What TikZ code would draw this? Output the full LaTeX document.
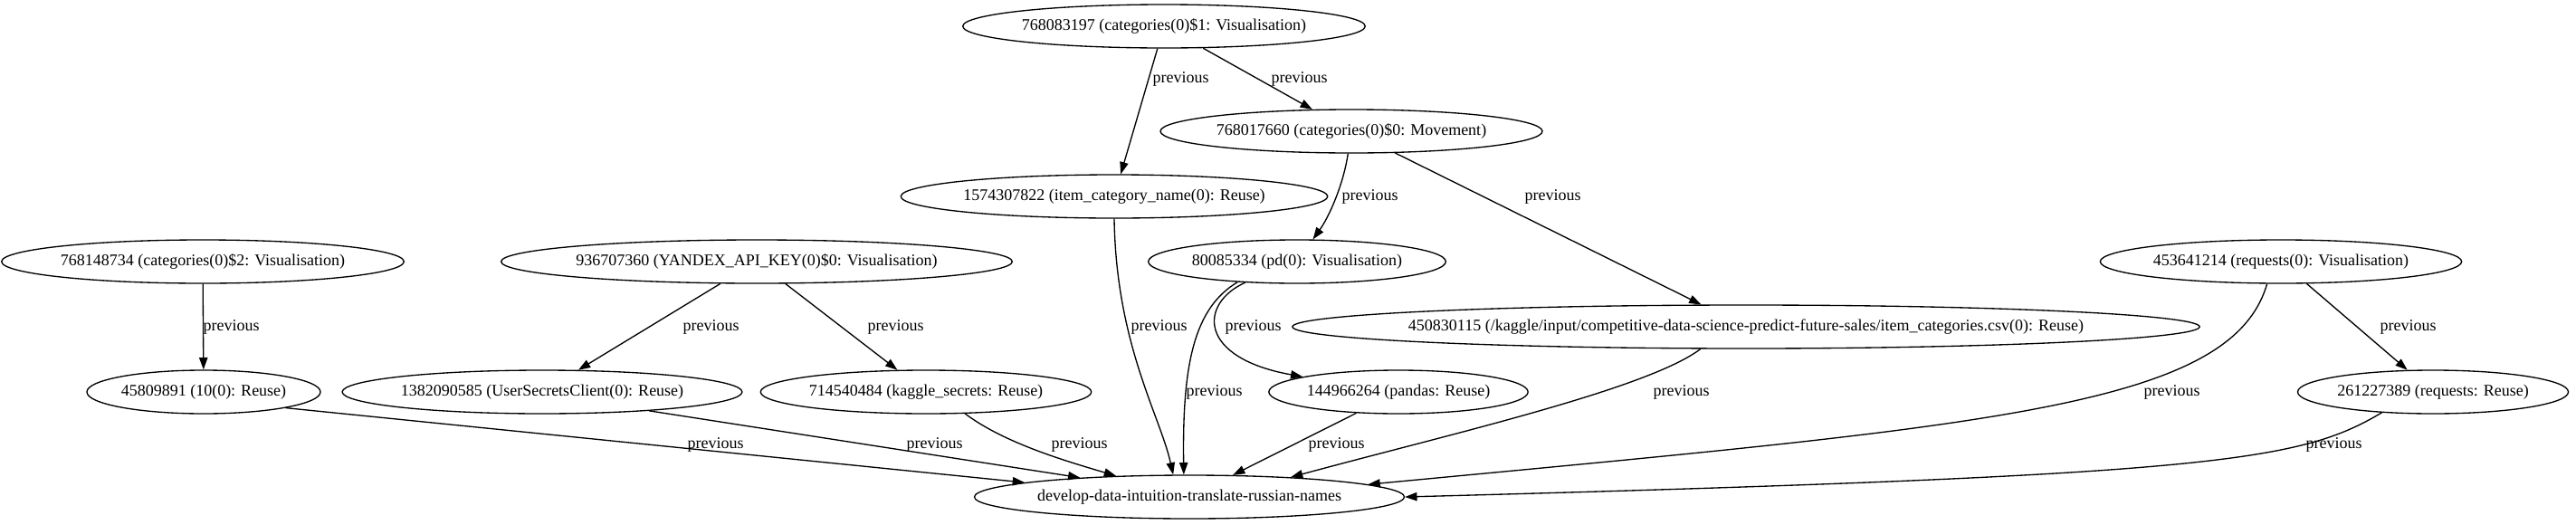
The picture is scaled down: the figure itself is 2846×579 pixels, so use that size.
\documentclass[tikz,border=0pt]{standalone}
\usepackage{fontspec}
\setmainfont{Liberation Serif}
\usetikzlibrary{shapes.geometric,arrows.meta}

\begin{document}
\begin{tikzpicture}[x=0.75pt,y=-0.75pt,
    state/.style={draw,ellipse,line width=1pt,inner xsep=0pt,minimum height=36pt,
      font=\fontsize{13.5}{16}\selectfont},
    prev/.style={line width=1pt,-{Triangle[length=10pt,width=7pt]}},
    lbl/.style={anchor=west,inner sep=0pt,font=\fontsize{13.5}{16}\selectfont}]
    \useasboundingbox (0,0) rectangle (2846,579);
    % Define nodes
    \node[state] (cat1) at (1286,29) {768083197 (categories(0)\$1: Visualisation)};
    \node[state] (cat0) at (1493,145) {768017660 (categories(0)\$0: Movement)};
    \node[state] (itemcat) at (1231,217) {1574307822 (item\_category\_name(0): Reuse)};
    \node[state] (cat2) at (224,289) {768148734 (categories(0)\$2: Visualisation)};
    \node[state] (yandex) at (836,289) {936707360 (YANDEX\_API\_KEY(0)\$0: Visualisation)};
    \node[state] (pd) at (1433,289) {80085334 (pd(0): Visualisation)};
    \node[state] (req) at (2520,289) {453641214 (requests(0): Visualisation)};
    \node[state,inner xsep=-14pt] (csv) at (1929,361) {450830115 (/kaggle/input/competitive-data-science-predict-future-sales/item\_categories.csv(0): Reuse)};
    \node[state] (ten) at (225,433) {45809891 (10(0): Reuse)};
    \node[state] (usc) at (599,433) {1382090585 (UserSecretsClient(0): Reuse)};
    \node[state] (ksec) at (1023,433) {714540484 (kaggle\_secrets: Reuse)};
    \node[state] (pandas) at (1545,433) {144966264 (pandas: Reuse)};
    \node[state] (reqreuse) at (2688,433) {261227389 (requests: Reuse)};
    \node[state] (nb) at (1314,549) {develop-data-intuition-translate-russian-names};
    % Upper edges
    \draw[prev] (cat1) -- (itemcat) node[lbl] at (1273,87) {previous};
    \draw[prev] (cat1) -- (cat0) node[lbl] at (1404,87) {previous};
    \draw[prev] (cat0) .. controls (1484,205) and (1468,240) .. (pd) node[lbl] at (1482,217) {previous};
    \draw[prev] (cat0) -- (csv) node[lbl] at (1684,217) {previous};
    \draw[prev] (cat2) -- (ten) node[lbl] at (224,361) {previous};
    \draw[prev] (yandex) -- (usc) node[lbl] at (754,361) {previous};
    \draw[prev] (yandex) -- (ksec) node[lbl] at (958,361) {previous};
    \draw[prev] (pd.202) .. controls (1325,335) and (1322,395) .. (pandas.171.8) node[lbl] at (1353,361) {previous};
    \draw[prev] (req) -- (reqreuse) node[lbl] at (2629,361) {previous};
    % Edges into the notebook
    \draw[prev] (itemcat.south) .. controls (1233,380) and (1282,460) .. (nb.126) node[lbl] at (1249,361) {previous};
    \draw[prev] (pd.199.4) .. controls (1320,340) and (1306,400) .. (nb.104) node[lbl] at (1310,433) {previous};
    \draw[prev] (csv.206.6) .. controls (1820,430) and (1600,480) .. (nb.11.4) node[lbl] at (1826,433) {previous};
    \draw[prev] (req.238) .. controls (2465,450) and (2200,470) .. (nb.4.2) node[lbl] at (2368,433) {previous};
    \draw[prev] (reqreuse.202) .. controls (2540,510) and (2450,525) .. (nb.0.7) node[lbl] at (2547,491) {previous};
    \draw[prev] (ten.349.7) -- (nb.175.1) node[lbl] at (759,491) {previous};
    \draw[prev] (usc.350.7) -- (nb.170.1) node[lbl] at (1001,491) {previous};
    \draw[prev] (ksec.331) .. controls (1110,490) and (1180,510) .. (nb.164) node[lbl] at (1161,491) {previous};
    \draw[prev] (pandas) -- (nb) node[lbl] at (1445,491) {previous};
\end{tikzpicture}
\end{document}
